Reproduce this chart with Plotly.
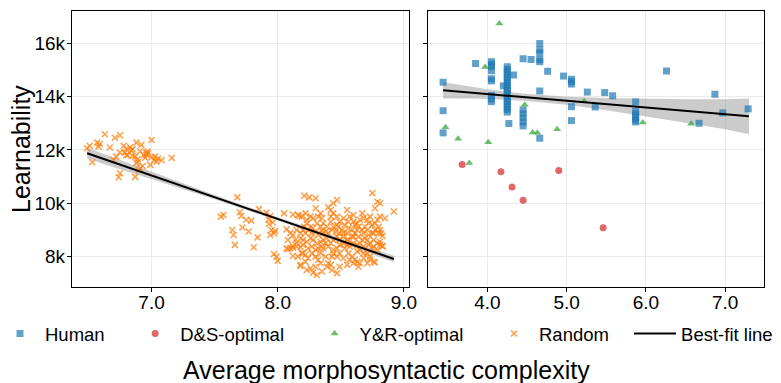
import plotly.graph_objects as go
from plotly.subplots import make_subplots

# ---------------- data ----------------
human_x = [3.44, 3.44, 3.44, 3.85,
           4.05, 4.05, 4.05, 4.05, 4.05, 4.05, 4.05, 4.05, 4.05,
           4.20,
           4.25, 4.25, 4.25, 4.25, 4.25, 4.25, 4.25, 4.25, 4.25,
           4.25, 4.25, 4.25, 4.25, 4.25, 4.25, 4.25, 4.25, 4.25,
           4.33, 4.27,
           4.45, 4.45, 4.45, 4.45, 4.45, 4.45,
           4.55,
           4.66, 4.66, 4.66, 4.66, 4.66, 4.66, 4.66,
           4.76, 4.96,
           5.06, 5.06, 5.06, 5.06, 5.06,
           5.26, 5.36, 5.48, 5.58,
           5.87, 5.87, 5.87, 5.87, 5.87, 5.87,
           6.26, 6.67, 6.87, 6.97, 7.29]
human_y = [14540, 13470, 12640, 15240,
           15310, 15210, 15120, 14970, 14670, 14590, 14040, 13910, 13810,
           14400,
           15120, 15020, 14920, 14820, 14720, 14620, 14520, 14420, 14320,
           14220, 14120, 14020, 13920, 13820, 13720, 13620, 13520, 13420,
           14810, 12990,
           15420, 13500, 13350, 13200, 13050, 12900,
           15390,
           15990, 15750, 15640, 15390, 15310, 14210, 12440,
           14950, 14770,
           14650, 14560, 14470, 13620, 13100,
           14170, 13610, 14150, 14030,
           13800, 13440, 13340, 13220, 13120, 13050,
           14960, 13000, 14090, 13390, 13540]

ds_x = [3.68, 4.17, 4.31, 4.45, 4.90, 5.46]
ds_y = [11450, 11180, 10610, 10110, 11230, 9080]

yr_x = [4.15, 3.97, 3.47, 3.63, 3.77, 4.01, 4.47, 4.57, 4.63, 4.88, 5.22, 5.96, 6.57]
yr_y = [16740, 15110, 12850, 12420, 11510, 12290, 13690, 12650, 12640, 12780, 13830, 13030, 12980]

random_x = [
    6.49, 6.51, 6.53, 6.57, 6.58, 6.63, 6.67, 6.70, 6.72, 6.74, 6.75, 6.75, 6.78, 6.79, 6.80,
    6.81, 6.83, 6.84, 6.85, 6.87, 6.88, 6.88, 6.89, 6.89, 6.90, 6.91, 6.93, 6.95, 6.96, 6.96,
    6.97, 6.97, 6.99, 7.00, 7.02, 7.03, 7.04, 7.05, 7.08, 7.16, 6.87, 6.71, 6.59, 6.80, 6.85,
    6.91, 6.92, 6.75, 6.94, 7.00,
    7.55, 7.57, 7.64, 7.65, 7.66, 7.68, 7.70, 7.71, 7.72, 7.75, 7.77, 7.79, 7.81, 7.84, 7.85,
    7.91, 7.93, 7.93, 7.94, 7.94, 7.95, 7.96, 7.97, 7.98, 7.99, 8.00, 7.97, 8.05, 8.07, 8.08,
    8.12, 8.12, 8.16, 8.17, 8.21, 8.25, 8.30, 8.18, 8.20, 8.21, 8.23, 8.26, 8.28, 8.30, 8.34,
    8.40, 8.42, 8.55, 8.56, 8.60, 8.63, 8.67, 8.68, 8.71, 8.75, 8.77, 8.79, 8.81, 8.85, 8.92,
    8.83, 8.76, 8.77, 8.73, 8.68, 8.64, 8.60, 8.55, 8.49, 8.47, 8.43, 8.39, 8.35, 8.31, 8.28,
    8.26, 8.23, 8.18, 8.16, 8.12, 8.10, 8.15, 8.19, 8.22, 8.24, 8.27, 8.30, 8.32, 8.34, 8.36,
    8.38, 8.40, 8.43, 8.44, 8.47, 8.49, 8.52, 8.53, 8.56, 8.59, 8.61, 8.63, 8.65, 8.68, 8.71,
    8.72, 8.75, 8.76, 8.79, 8.81, 8.83, 8.80, 8.77, 8.75, 8.72, 8.69, 8.67, 8.64, 8.61, 8.59,
    8.56, 8.55, 8.52, 8.49, 8.47, 8.44, 8.42, 8.39, 8.36, 8.34, 8.31, 8.28, 8.26, 8.23, 8.20,
    8.22, 8.24, 8.27, 8.30, 8.32, 8.35, 8.38, 8.40, 8.43, 8.46, 8.48, 8.51, 8.53, 8.56, 8.59,
    8.61, 8.64, 8.67, 8.69, 8.72, 8.75, 8.77, 8.80, 8.79, 8.73, 8.71, 8.65, 8.63, 8.60, 8.57,
    8.52, 8.49, 8.47, 8.44, 8.42, 8.39, 8.36, 8.34, 8.31, 8.28, 8.26, 8.23, 8.20, 8.42, 8.44,
    8.47, 8.35, 8.32, 8.36, 8.57, 8.60, 8.63, 8.65, 8.68, 8.71, 8.73, 8.76, 8.79, 8.81, 8.44,
    8.47, 8.49, 8.52, 8.55, 8.40, 8.38, 8.35, 8.32, 8.30, 8.27, 8.24, 8.22, 8.30, 8.34, 8.42,
    8.57, 8.71, 8.73, 8.63, 8.65, 8.68, 8.81, 8.83, 8.82, 8.81, 8.76, 8.60, 8.12, 8.10, 8.14,
    8.18, 8.08, 8.07, 8.15, 8.19, 8.22, 8.47, 8.44, 8.52, 8.49, 8.55, 8.12, 8.15, 8.18, 8.20,
    8.18]
random_y = [
    12060, 12160, 11540, 12275, 12125, 12590, 12090, 11625, 11750, 10975, 11125, 12550, 12160, 11900, 12040,
    11810, 12100, 11975, 12025, 11750, 12275, 11500, 11550, 11660, 11250, 11310, 11400, 11710, 11900, 11825,
    11940, 11850, 11440, 12375, 11625, 11750, 11560, 11675, 11610, 11700, 10990, 12460, 12225, 11800, 11775,
    11940, 12190, 11900, 11800, 11725,
    9500, 9560, 9000, 8810, 8440, 10220, 9660, 9520, 9090, 9380, 8940, 9350, 8350, 8720, 9780,
    9650, 9380, 9220, 9520, 8810, 9000, 9280, 8100, 8960, 8000, 7840, 8880, 9620, 9020, 8280,
    8400, 9580, 9560, 9520, 10280, 10220, 10190, 8880, 8620, 9120, 9380, 9500, 9440, 9810, 9620,
    9850, 9500, 9750, 9310, 9560, 9250, 9620, 9440, 9380, 10380, 9810, 10060, 10000, 9440, 9690,
    8780, 7810, 7780, 7880, 7940, 7620, 7750, 7690, 7620, 7380, 7500, 7620, 7440, 7310, 7400,
    7560, 7500, 7650, 8000, 8020, 8310, 8500, 8120, 8060, 8310, 8120, 8000, 7880, 8120, 8310,
    8000, 7750, 8000, 8250, 8000, 8120, 7940, 8310, 8120, 8000, 7880, 8190, 8250, 8380, 8120,
    8440, 8310, 8620, 8500, 8440, 8400, 8880, 9000, 8880, 8810, 8690, 8620, 8750, 8880, 8750,
    8620, 8880, 8750, 8620, 8750, 8620, 8500, 8690, 8620, 8560, 8500, 8620, 8690, 8560, 8440,
    8880, 9000, 8880, 8940, 8810, 9000, 8940, 8880, 9000, 8940, 9120, 9000, 9190, 9060, 9000,
    9190, 9120, 9000, 9120, 9250, 9190, 9250, 9120, 9380, 9500, 9000, 9380, 9000, 9310, 9500,
    9440, 9310, 9190, 9120, 9310, 9120, 9250, 9120, 9250, 9060, 9120, 9250, 9000, 9750, 9620,
    9500, 9440, 9500, 8880, 8380, 8500, 8440, 8500, 8880, 8620, 8500, 8380, 8250, 8560, 8120,
    8310, 8440, 8500, 8440, 8380, 8500, 8380, 8310, 8250, 8380, 7940, 7810, 7620, 7750, 7690,
    7880, 7750, 8000, 7810, 7750, 8120, 9000, 8380, 8880, 9500, 8880, 8750, 8810, 8880, 8620,
    8690, 8620, 8310, 9000, 9500, 9620, 10120, 10000, 8880, 8880, 8620, 8330, 8380, 8360, 8130,
    7690]

# best-fit lines and confidence bands
fitL_x = [6.49, 8.92]
fitL_y = [11875, 7912]
bandL_x = [6.49, 7.0, 7.5, 8.0, 8.5, 8.92]
bandL_hi = [12085, 11183, 10308, 9472, 8677, 8032]
bandL_lo = [11665, 10903, 10148, 9352, 8517, 7792]

fitR_x = [3.44, 7.30]
fitR_y = [14237, 13262]
bandR_x = [3.44, 4.0, 4.5, 5.0, 5.5, 6.0, 6.5, 7.0, 7.30]
bandR_hi = [14542, 14276, 14099, 13993, 13947, 13920, 13904, 13898, 13932]
bandR_lo = [13932, 13916, 13839, 13693, 13487, 13260, 13024, 12778, 12592]

y_ticks = [8000, 10000, 12000, 14000, 16000]
y_ticktext = ["8k", "10k", "12k", "14k", "16k"]
xL_ticks = [7, 8, 9]
xL_ticktext = ["7.0", "8.0", "9.0"]
xR_ticks = [4, 5, 6, 7]
xR_ticktext = ["4.0", "5.0", "6.0", "7.0"]

FONT = "Liberation Sans, Arial, Helvetica, sans-serif"
BAND = "rgba(140,140,140,0.45)"
PAD = "\u00a0\u00a0\u00a0\u00a0"  # spacing between legend entries

fig = make_subplots(rows=1, cols=2, shared_yaxes=True)

# bands first
fig.add_trace(go.Scatter(x=bandL_x + bandL_x[::-1], y=bandL_hi + bandL_lo[::-1], fill="toself",
                         fillcolor=BAND, line=dict(width=0), mode="lines", showlegend=False,
                         hoverinfo="skip"), row=1, col=1)
fig.add_trace(go.Scatter(x=bandR_x + bandR_x[::-1], y=bandR_hi + bandR_lo[::-1], fill="toself",
                         fillcolor=BAND, line=dict(width=0), mode="lines", showlegend=False,
                         hoverinfo="skip"), row=1, col=2)

fig.add_trace(go.Scatter(x=human_x, y=human_y, mode="markers", name="Human" + PAD,
                         marker=dict(symbol="square", size=7, color="#1f77b4", opacity=0.7,
                                     line=dict(width=0))), row=1, col=2)
fig.add_trace(go.Scatter(x=ds_x, y=ds_y, mode="markers", name="D&S-optimal" + PAD,
                         marker=dict(symbol="circle", size=7, color="#d62728", opacity=0.7,
                                     line=dict(width=0))), row=1, col=2)
fig.add_trace(go.Scatter(x=yr_x, y=yr_y, mode="markers", name="Y&R-optimal" + PAD,
                         marker=dict(symbol="triangle-up", size=7, color="#2ca02c", opacity=0.7,
                                     line=dict(width=0))), row=1, col=2)
fig.add_trace(go.Scatter(x=random_x, y=random_y, mode="markers", name="Random",
                         marker=dict(symbol="x-thin", size=6, color="#ff7f0e", opacity=0.75,
                                     line=dict(width=1.5, color="#ff7f0e"))), row=1, col=1)

fig.add_trace(go.Scatter(x=fitL_x, y=fitL_y, mode="lines", name="Best-fit line", legend="legend2",
                         line=dict(color="black", width=2)), row=1, col=1)
fig.add_trace(go.Scatter(x=fitR_x, y=fitR_y, mode="lines", name="Best-fit line", showlegend=False,
                         legend="legend2", line=dict(color="black", width=2)), row=1, col=2)

axis_common = dict(showline=True, mirror=True, linecolor="black", linewidth=1.3,
                   showgrid=True, gridcolor="#ebebeb", gridwidth=1, zeroline=False,
                   ticks="outside", ticklen=4, tickwidth=1, tickcolor="black", automargin=False,
                   tickfont=dict(size=19, color="black", family=FONT))

legend_common = dict(orientation="h", yanchor="middle", y=-0.1703, xanchor="left",
                     font=dict(size=18.5, color="black", family=FONT),
                     bgcolor="rgba(0,0,0,0)", traceorder="normal")

fig.update_layout(
    width=781, height=383,
    margin=dict(l=72, r=17, t=11, b=96, autoexpand=False),
    paper_bgcolor="white", plot_bgcolor="white",
    font=dict(family=FONT, color="black"),
    xaxis=dict(domain=[0, 0.487], range=[6.37, 9.04], tickvals=xL_ticks, ticktext=xL_ticktext,
               ticklabelstandoff=-6, **axis_common),
    xaxis2=dict(domain=[0.5145, 1], range=[3.25, 7.49], tickvals=xR_ticks, ticktext=xR_ticktext,
                ticklabelstandoff=-6, **axis_common),
    yaxis=dict(range=[6860, 17210], tickvals=y_ticks, ticktext=y_ticktext,
               ticklabelstandoff=-2, **axis_common),
    yaxis2=dict(range=[6860, 17210], tickvals=y_ticks, ticktext=y_ticktext, showticklabels=False,
                matches="y", **axis_common),
    legend=dict(x=-0.1113, itemwidth=40, **legend_common),
    legend2=dict(x=0.805, itemwidth=42, **legend_common),
    showlegend=True,
    annotations=[
        dict(text="Average morphosyntactic complexity", x=0.455, y=-0.3007, xref="paper", yref="paper",
             xanchor="center", yanchor="middle", showarrow=False, font=dict(size=25, color="black", family=FONT)),
        dict(text="Learnability", x=-0.0737, y=0.5, xref="paper", yref="paper", textangle=-90,
             xanchor="center", yanchor="middle", showarrow=False, font=dict(size=25, color="black", family=FONT)),
    ],
)

fig.write_html("out.html", config={"displayModeBar": False},
               post_script="document.body.style.margin='0';document.body.style.padding='0';")
